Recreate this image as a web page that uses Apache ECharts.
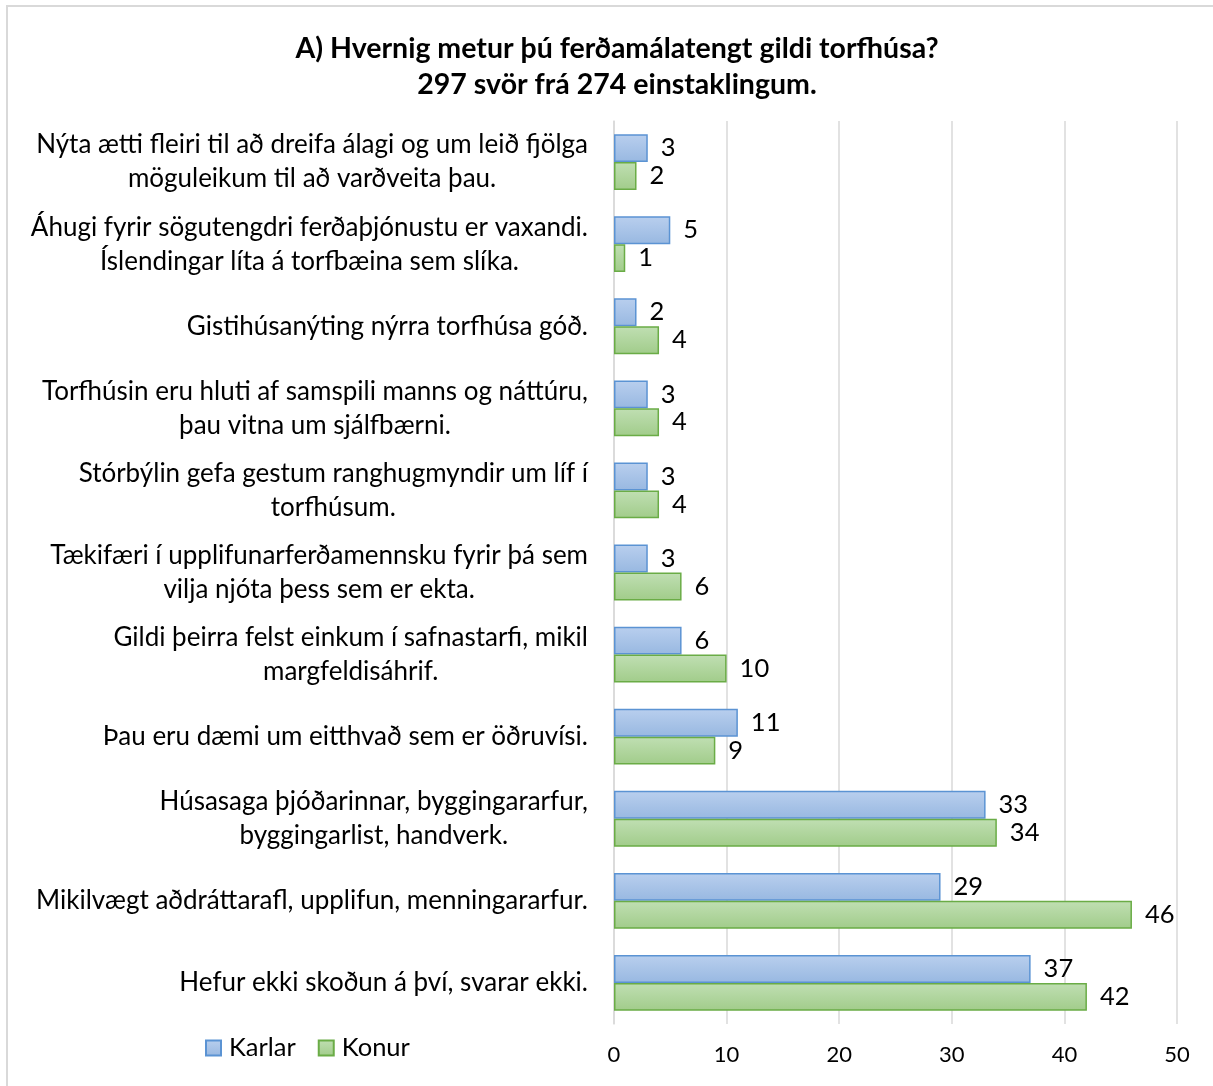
<!DOCTYPE html>
<html>
<head>
<meta charset="utf-8">
<script src="https://cdn.jsdelivr.net/npm/echarts@6/dist/echarts.min.js"></script>
<style>
html,body{margin:0;padding:0;background:#fff;}
#c{width:1213px;height:1086px;}
</style>
</head>
<body>
<div id="c"></div>
<script>
const categories = [
  "Nýta ætti fleiri til að dreifa álagi og um leið fjölga\nmöguleikum til að varðveita þau.",
  "Áhugi fyrir sögutengdri ferðaþjónustu er vaxandi.\nÍslendingar líta á torfbæina sem slíka.",
  "Gistihúsanýting nýrra torfhúsa góð.",
  "Torfhúsin eru hluti af samspili manns og náttúru,\nþau vitna um sjálfbærni.",
  "Stórbýlin gefa gestum ranghugmyndir um líf í\ntorfhúsum.",
  "Tækifæri í upplifunarferðamennsku fyrir þá sem\nvilja njóta þess sem er ekta.",
  "Gildi þeirra felst einkum í safnastarfi, mikil\nmargfeldisáhrif.",
  "Þau eru dæmi um eitthvað sem er öðruvísi.",
  "Húsasaga þjóðarinnar, byggingararfur,\nbyggingarlist, handverk.",
  "Mikilvægt aðdráttarafl, upplifun, menningararfur.",
  "Hefur ekki skoðun á því, svarar ekki."
];
const karlar = [3, 5, 2, 3, 3, 3, 6, 11, 33, 29, 37];
const konur  = [2, 1, 4, 4, 4, 6, 10, 9, 34, 46, 42];
const seriesNames = ["Karlar", "Konur"];
const titleLines = ["A) Hvernig metur þú ferðamálatengt gildi torfhúsa?", "297 svör frá 274 einstaklingum."];

const FONT = "Lato";
const chart = echarts.init(document.getElementById('c'), null, {renderer: 'canvas'});

function grad(top, bottom) {
  return new echarts.graphic.LinearGradient(0, 0, 0, 1, [
    {offset: 0, color: top}, {offset: 1, color: bottom}
  ]);
}
const blueFill = grad('#b9cfee', '#98b8e1');
const greenFill = grad('#c0dfb3', '#a1cc8a');

const labelStyle = {
  show: true, position: 'right', distance: 13,
  color: '#000', fontFamily: FONT, fontSize: 25.5
};

chart.setOption({
  backgroundColor: '#fff',
  animation: false,
  title: {
    text: titleLines.join('\n'),
    left: 612, textAlign: 'center', top: 26,
    textStyle: {fontFamily: FONT, fontWeight: 'bold', fontSize: 28.5, color: '#000', lineHeight: 36}
  },
  legend: {
    data: seriesNames,
    left: 200, top: 1030,
    itemWidth: 15, itemHeight: 15, itemGap: 22,
    icon: 'rect',
    textStyle: {fontFamily: FONT, fontSize: 25.5, color: '#000', padding: [0, 0, 0, 3]}
  },
  grid: {left: 614, right: 36, top: 121, bottom: 62, containLabel: false},
  xAxis: {
    type: 'value', min: 0, max: 50, interval: 10,
    axisLine: {show: false}, axisTick: {show: false},
    splitLine: {show: true, lineStyle: {color: '#d9d9d9', width: 1.5}},
    axisLabel: {fontFamily: FONT, fontSize: 22, color: '#000', margin: 20}
  },
  yAxis: {
    type: 'category', data: categories, inverse: true,
    axisLine: {show: true, lineStyle: {color: '#d9d9d9', width: 1.5}},
    axisTick: {show: false},
    axisLabel: {
      margin: 26, color: '#000', fontFamily: FONT, fontSize: 26, lineHeight: 34,
      formatter: function (v) { return v.split('\n').map(s => '{c|' + s + '}').join('\n'); },
      rich: {c: {align: 'center', fontFamily: FONT, fontSize: 26, lineHeight: 34, color: '#000'}}
    }
  },
  series: [
    {
      name: seriesNames[0], type: 'bar', data: karlar,
      barGap: '0%', barCategoryGap: '32%',
      itemStyle: {color: blueFill, borderColor: '#5b93d3', borderWidth: 1.5},
      label: labelStyle
    },
    {
      name: seriesNames[1], type: 'bar', data: konur,
      barGap: '0%', barCategoryGap: '32%',
      itemStyle: {color: greenFill, borderColor: '#6aac46', borderWidth: 1.5},
      label: labelStyle
    }
  ],
  graphic: [{
    type: 'rect', silent: true, z: 100,
    shape: {x: 7, y: 6, width: 1230, height: 1100},
    style: {fill: 'none', stroke: '#d9d9d9', lineWidth: 2}
  }]
});
</script>
</body>
</html>
